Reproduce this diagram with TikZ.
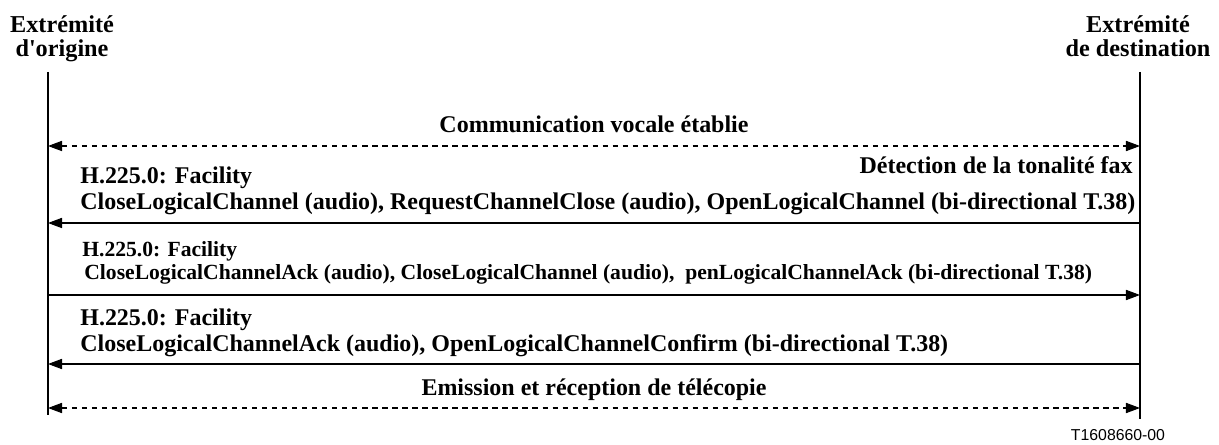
\documentclass[tikz,border=0pt]{standalone}
\usepackage{fontspec}
\setmainfont{Liberation Serif}
\newfontfamily\plainserif{Liberation Serif}
\newfontfamily\tagfont{Liberation Sans}
\usetikzlibrary{positioning,arrows.meta,calc}

\begin{document}
\begin{tikzpicture}[x=0.02cm,y=-0.02cm,>={Triangle[length=8pt,width=5.8pt]},
    msg/.style={font=\bfseries\fontsize{13.65}{15}\selectfont,inner sep=0pt},
    smallmsg/.style={font=\bfseries\fontsize{12.3}{13}\selectfont,inner sep=0pt},
    endpt/.style={font=\plainserif\bfseries\fontsize{13.8}{14.2}\selectfont,align=center,inner sep=0pt},
    life/.style={line width=0.6pt},
    sig/.style={->,line width=0.6pt},
    flow/.style={<->,line width=0.6pt,dash pattern=on 3pt off 2.7pt}]
  \useasboundingbox (0,0) rectangle (1219,445);
  % end points and their lifelines
  \node[endpt,anchor=base] (orig) at (62,57) {Extrémité\\d'origine};
  \node[endpt,anchor=base] (dest) at (1138,57) {Extrémité\\de destination};
  \coordinate (o-top) at (48,72); \coordinate (o-bot) at (48,415);
  \coordinate (d-top) at (1140,72); \coordinate (d-bot) at (1140,419);
  \draw[life] (o-top)--(o-bot); \draw[life] (d-top)--(d-bot);
  % voice call
  \coordinate (o-voice) at (48,146); \coordinate (d-voice) at (1140,146);
  \node[msg,anchor=base] (voice) at (594,133) {Communication vocale établie};
  \draw[flow] (o-voice)--(d-voice);
  % fax tone detected, first Facility
  \node[msg,anchor=base east] (tone) at (1133,174) {Détection de la tonalité fax};
  \node[msg,anchor=base west] (fac1) at (80,184) {H.225.0: Facility};
  \node[msg,anchor=base west] (cmd1) at (80,210) {CloseLogicalChannel (audio), RequestChannelClose (audio), OpenLogicalChannel (bi-directional T.38)};
  \coordinate (o-m1) at (48,223); \coordinate (d-m1) at (1140,223);
  \draw[sig] (d-m1)--(o-m1);
  % second Facility
  \node[smallmsg,anchor=base west] (fac2) at (82,257) {H.225.0: Facility};
  \node[smallmsg,anchor=base west] (cmd2) at (84,280) {CloseLogicalChannelAck (audio), CloseLogicalChannel (audio),\ \ penLogicalChannelAck (bi-directional T.38)};
  \coordinate (o-m2) at (48,295); \coordinate (d-m2) at (1140,295);
  \draw[sig] (o-m2)--(d-m2);
  % third Facility
  \node[msg,anchor=base west] (fac3) at (80,326) {H.225.0: Facility};
  \node[msg,anchor=base west] (cmd3) at (80,352) {CloseLogicalChannelAck (audio), OpenLogicalChannelConfirm (bi-directional T.38)};
  \coordinate (o-m3) at (48,364); \coordinate (d-m3) at (1140,364);
  \draw[sig] (d-m3)--(o-m3);
  % fax phase
  \node[msg,anchor=base] (fax) at (594,396) {Emission et réception de télécopie};
  \coordinate (o-fax) at (48,408); \coordinate (d-fax) at (1140,408);
  \draw[flow] (o-fax)--(d-fax);
  \node[font=\tagfont\fontsize{9}{10}\selectfont,inner sep=0pt] (tag) at (1118,435) {T1608660-00};
\end{tikzpicture}
\end{document}
